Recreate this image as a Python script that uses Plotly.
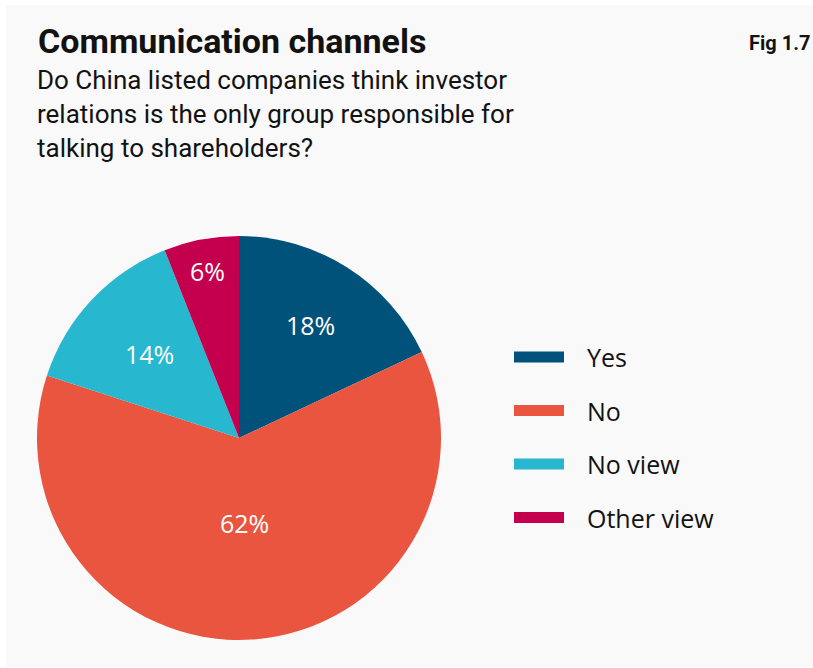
import math
import plotly.graph_objects as go

# Survey answers
categories = ["Yes", "No", "No view", "Other view"]
shares = [18, 62, 14, 6]
colors = ["#00527a", "#e9553f", "#27b7cf", "#c4004e"]

title = "Communication channels"
subtitle = ("Do China listed companies think investor<br>"
            "relations is the only group responsible for<br>"
            "talking to shareholders?")
fig_label = "Fig 1.7"

W, H = 813, 668
cx, cy, r = 239, 438, 202  # pie centre / radius in pixels
label_radius = [0.66, 0.42, 0.61, 0.84]  # how far out each slice label sits

fig = go.Figure(go.Pie(
    labels=categories,
    values=shares,
    sort=False,
    direction="clockwise",
    rotation=0,
    marker=dict(colors=colors, line=dict(width=0)),
    textinfo="none",
    showlegend=False,
    hoverinfo="label+percent",
    domain=dict(x=[(cx - r) / W, (cx + r) / W],
                y=[(H - cy - r) / H, (H - cy + r) / H]),
))

shapes = [dict(type="rect", xref="paper", yref="paper", layer="below",
               x0=6 / W, x1=1, y0=1 / H, y1=1 - 5 / H,
               fillcolor="#f9f9f9", line=dict(width=0))]

dark = "#121212"
cond = "Roboto"
annotations = [
    dict(text=f"<b>{title}</b>", x=36 / W, y=1 - 63 / H, xref="paper", yref="paper",
         xanchor="left", yanchor="bottom", showarrow=False,
         font=dict(family=cond, size=34, color=dark)),
    dict(text=subtitle, x=35 / W, y=1 - 63 / H, xref="paper", yref="paper",
         xanchor="left", yanchor="top", showarrow=False, align="left",
         font=dict(family=cond, size=26, color=dark)),
    dict(text=f"<b>{fig_label}</b>", x=812 / W, y=1 - 29 / H, xref="paper", yref="paper",
         xanchor="right", yanchor="top", showarrow=False,
         font=dict(family=cond, size=20, color=dark)),
]

# Percentage labels at each slice's mid-angle
total = sum(shares)
cum = 0
for val, f in zip(shares, label_radius):
    mid = 2 * math.pi * (cum + val / 2) / total
    cum += val
    px = cx + f * r * math.sin(mid)
    py = cy - f * r * math.cos(mid)
    annotations.append(dict(text=f"{val}%", x=px / W, y=1 - py / H,
                            xref="paper", yref="paper", showarrow=False,
                            xanchor="center", yanchor="middle",
                            font=dict(family="Open Sans", size=25, color="white")))

# Legend drawn as colour bars with labels
leg_y0, leg_dy = 357, 53.5
for i, (cat, col) in enumerate(zip(categories, colors)):
    yc = leg_y0 + i * leg_dy
    shapes.append(dict(type="rect", xref="paper", yref="paper",
                       x0=514 / W, x1=564 / W,
                       y0=1 - (yc + 5.5) / H, y1=1 - (yc - 5.5) / H,
                       fillcolor=col, line=dict(width=0)))
    annotations.append(dict(text=cat, x=585 / W, y=1 - yc / H, xref="paper", yref="paper",
                            xanchor="left", yanchor="middle", showarrow=False,
                            font=dict(family="Open Sans", size=25, color=dark)))

fig.update_layout(
    width=W, height=H,
    margin=dict(l=0, r=0, t=0, b=0),
    paper_bgcolor="white",
    plot_bgcolor="white",
    shapes=shapes,
    annotations=annotations,
)

fig.write_html("out.html")
